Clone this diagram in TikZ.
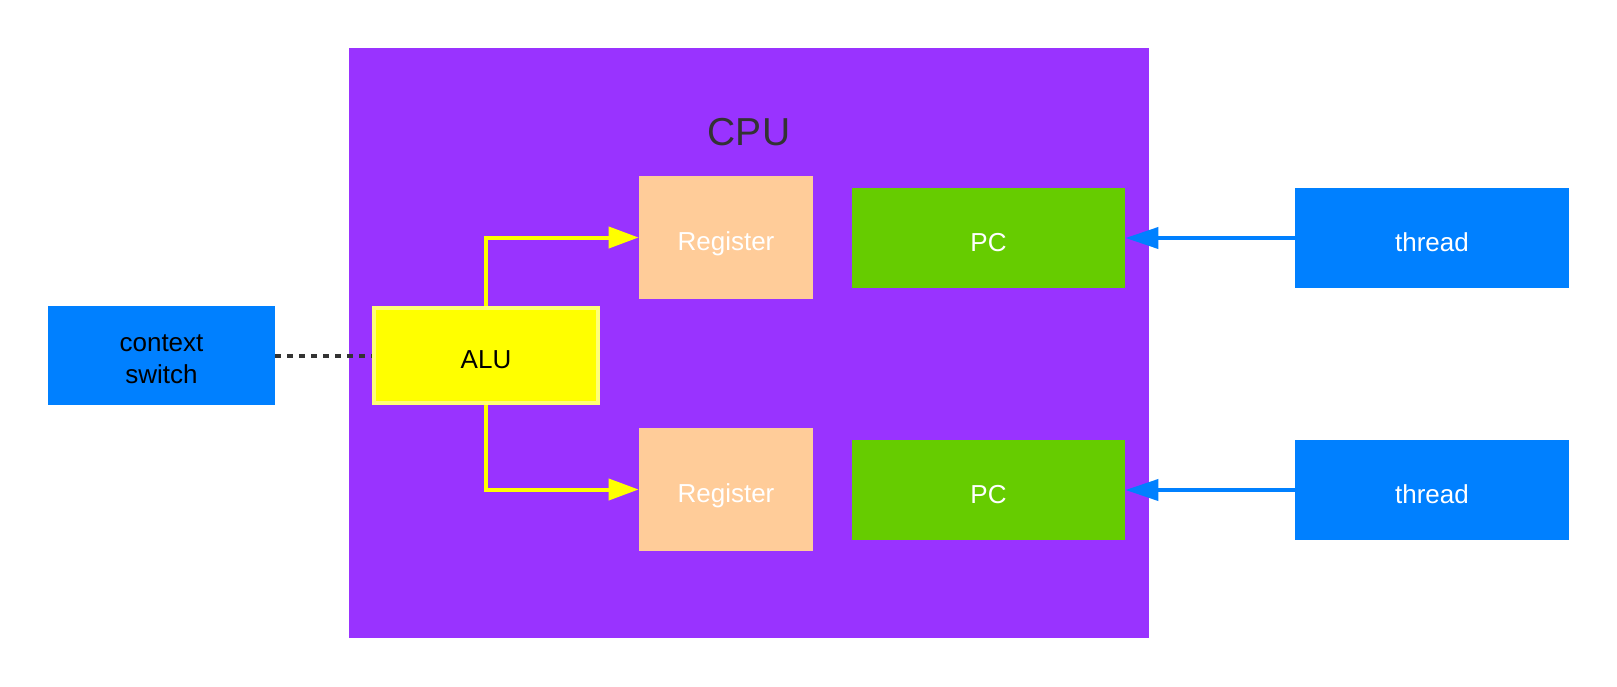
\documentclass[tikz,border=0pt]{standalone}
\usepackage{fontspec}
\setmainfont{Liberation Sans}
\usetikzlibrary{arrows.meta}
\definecolor{cpupurple}{HTML}{9933FF}
\definecolor{regorange}{HTML}{FFCC99}
\definecolor{pcgreen}{HTML}{66CC00}
\definecolor{thblue}{HTML}{0080FF}
\definecolor{aluyellow}{HTML}{FFFF00}
\definecolor{alulight}{HTML}{FFFF77}
\definecolor{darkgray}{HTML}{333333}
\begin{document}
\begin{tikzpicture}[x=0.5pt,y=-0.5pt,
  box/.style={draw=none, inner sep=0pt, align=center, font=\fontsize{13}{16}\selectfont},
  oneline/.style={text height=13pt, text depth=0pt},
  yarrow/.style={draw=aluyellow, line width=2pt, -{Triangle[length=15pt,width=10.5pt]}},
  barrow/.style={draw=thblue, line width=2pt, -{Triangle[length=16.5pt,width=10.5pt]}},
  dotline/.style={draw=darkgray, line width=2pt, dash pattern=on 3pt off 3pt}]
\useasboundingbox (0,0) rectangle (1617,686);
% CPU
\node[box, fill=cpupurple, minimum width=400pt, minimum height=295pt] (cpu) at (749,343) {};
\node[font=\fontsize{19.5}{22}\selectfont, text=darkgray, anchor=base, inner sep=0pt] (cpulbl) at (749,145) {CPU};
% registers
\node[box, oneline, fill=regorange, text=white, minimum width=87pt, minimum height=61.5pt] (reg1) at (726,237.5) {Register};
\node[box, oneline, fill=regorange, text=white, minimum width=87pt, minimum height=61.5pt] (reg2) at (726,489.5) {Register};
% PCs
\node[box, oneline, fill=pcgreen, text=white, minimum width=136.5pt, minimum height=50pt] (pc1) at (988.5,238) {PC};
\node[box, oneline, fill=pcgreen, text=white, minimum width=136.5pt, minimum height=50pt] (pc2) at (988.5,490) {PC};
% threads
\node[box, oneline, fill=thblue, text=white, minimum width=137pt, minimum height=50pt] (th1) at (1432,238) {thread};
\node[box, oneline, fill=thblue, text=white, minimum width=137pt, minimum height=50pt] (th2) at (1432,490) {thread};
% context switch
\node[box, fill=thblue, minimum width=113.5pt, minimum height=49.5pt] (cs) at (161.5,355.5) {};
\node[box, text=black, yshift=-2pt] (cstext) at (cs.center) {context\\switch};
% ALU
\node[box, oneline, fill=aluyellow, draw=alulight, line width=2pt, text=black, minimum width=112pt, minimum height=47.5pt] (alu) at (486,355.5) {ALU};
% connectors
\draw[yarrow] (alu.north) |- (reg1.west);
\draw[yarrow] (alu.south) |- (reg2.west);
\draw[barrow] (th1.west) -- (pc1.east);
\draw[barrow] (th2.west) -- (pc2.east);
\draw[dotline] (cs.east) -- (alu.west);
\end{tikzpicture}
\end{document}
